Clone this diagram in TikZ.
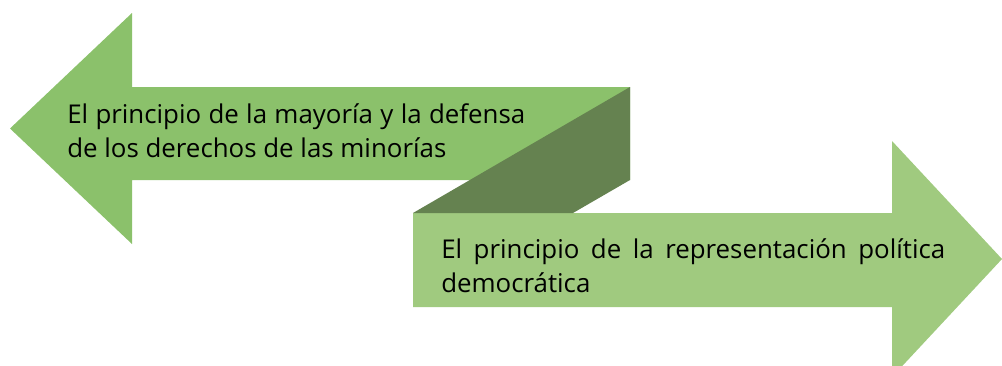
\documentclass[tikz,border=0pt]{standalone}
\usepackage{fontspec}
\setmainfont{Open Sans}
\definecolor{lgreen}{HTML}{8BC16B}
\definecolor{rgreen}{HTML}{A0CA7F}
\definecolor{dgreen}{HTML}{658250}
\begin{document}
\begin{tikzpicture}[x=0.75pt,y=-0.75pt,
  lbl/.style={anchor=base west,inner sep=0pt,align=left,text=black,
    font=\fontsize{19.4}{25.5}\selectfont}]
\useasboundingbox (0,0) rectangle (1002,365);
\clip (0,0) rectangle (1002,365);
% left arrow
\fill[lgreen] (10,128.5) -- (132,13) -- (132,87) -- (630,87) -- (630,180) -- (132,180) -- (132,244) -- cycle;
% right arrow
\fill[rgreen] (413,213) -- (892,213) -- (892,141) -- (1002,259) -- (892,377) -- (892,307) -- (413,307) -- cycle;
% dark twist
\fill[dgreen] (413,213) -- (630,87) -- (630,180) -- (573,213) -- cycle;
\node[lbl] (ltext) at (67,157) {\makebox[343.5pt][s]{El principio de la mayoría y la defensa}\\de los derechos de las minorías};
\node[lbl] (rtext) at (441,292) {\makebox[378pt][s]{El principio de la representación política}\\democrática};
\end{tikzpicture}
\end{document}
